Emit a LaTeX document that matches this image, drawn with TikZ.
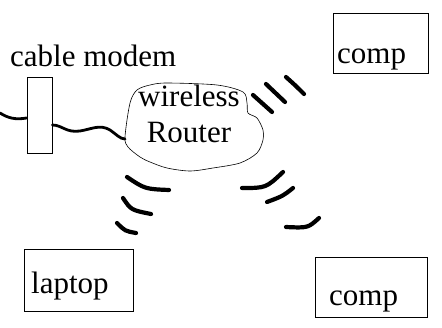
\documentclass[tikz,border=0pt]{standalone}
\usepackage{fontspec}
\setmainfont{Liberation Serif}
\usetikzlibrary{positioning}

\begin{document}
\begin{tikzpicture}[x=1pt, y=-1pt,
  box/.style={rectangle, draw, line width=0.8pt, inner sep=0pt},
  lbl/.style={font=\fontsize{31}{36}\selectfont, inner sep=0pt, anchor=base west},
  cable/.style={draw, line width=2.8pt, line cap=round},
  wave/.style={draw, line width=4.2pt, line cap=round}]

  \useasboundingbox (0,0) rectangle (442,327);

  % modem and cable
  \node [box, minimum width=25pt, minimum height=76pt] (modem) at (39.5,115) {};
  \node [lbl] (modemtxt) at (10,66) {cable modem};
  \coordinate (wall) at (0,113);
  \coordinate (rtrin) at (125,139);
  \draw [cable] (wall) .. controls (8,118) and (15,120) .. ([yshift=-3pt]modem.west);
  \draw [cable] ([yshift=-10pt]modem.east) .. controls (62,125) and (66,133) .. (80,131)
    .. controls (92,129) and (100,124) .. (110,130) .. controls (116,134) and (120,139) .. (rtrin);

  % router cloud
  \draw [line width=0.6pt] plot [smooth cycle] coordinates {(125,137) (130,103) (137,90)
    (150,85) (167,83) (217,85) (243,92) (247,103) (248,113) (257,118) (263,130) (263,140)
    (257,153) (240,163) (213,168) (190,171) (167,168) (150,162) (140,157) (128,147)};
  \node [font=\fontsize{31}{36}\selectfont, align=center, inner sep=0pt] (router) at (189,114) {wireless\\Router};

  % computers
  \node [box, minimum width=95pt, minimum height=60pt] (comp1) at (380.5,43) {};
  \node [lbl] (comp1txt) at (337,63) {comp};
  \node [box, minimum width=109pt, minimum height=62pt] (laptop) at (78.5,280) {};
  \node [lbl] (laptoptxt) at (31,293) {laptop};
  \node [box, minimum width=112pt, minimum height=60pt] (comp2) at (371,287) {};
  \node [lbl] (comp2txt) at (329,305) {comp};

  % signal strokes
  \draw [wave] (253,95) .. controls (262,104) .. (272,112);
  \draw [wave] (266,84) .. controls (276,93) .. (285,102);
  \draw [wave] (286,77) .. controls (296,86) .. (304,94);
  \draw [wave] (127,177) .. controls (145,189) .. (169,190);
  \draw [wave] (123,198) .. controls (131,210) .. (151,214);
  \draw [wave] (117,223) .. controls (125,231) .. (136,233);
  \draw [wave] (242,188) .. controls (266,188) .. (283,172);
  \draw [wave] (267,202) .. controls (283,196) .. (293,188);
  \draw [wave] (286,227) .. controls (308,228) .. (319,218);
\end{tikzpicture}
\end{document}
